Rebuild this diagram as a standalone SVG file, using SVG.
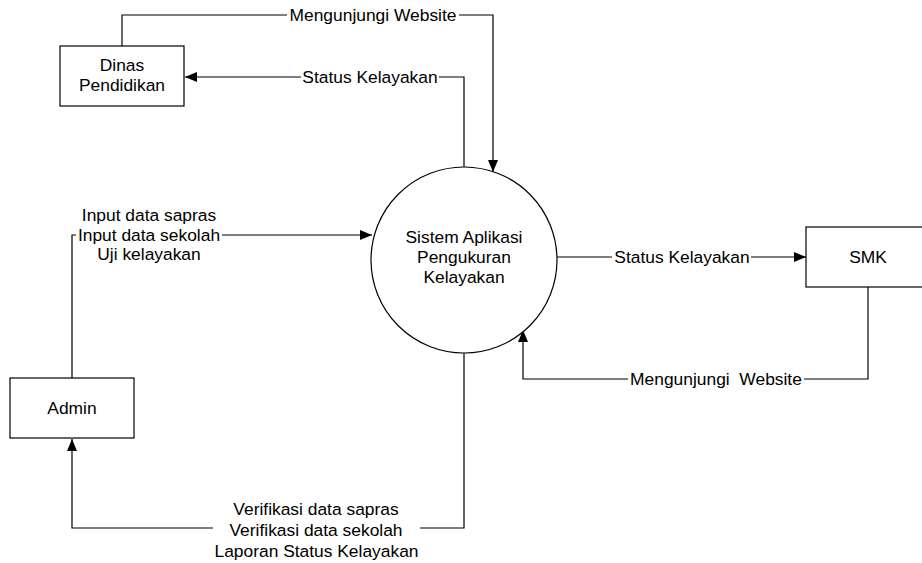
<svg xmlns="http://www.w3.org/2000/svg" width="922" height="563" viewBox="0 0 922 563">
<style>
.box{fill:#fff;stroke:#000;stroke-width:1.2}
.ln{fill:none;stroke:#000;stroke-width:1.2}
text{font-family:"Liberation Sans",Arial,sans-serif;font-size:17.4px;fill:#000;text-anchor:middle;white-space:pre}
</style>
<defs>
<marker id="ah" markerUnits="userSpaceOnUse" markerWidth="14" markerHeight="12" viewBox="0 0 14 12" refX="13" refY="6" orient="auto">
<path d="M1 1 L13 6 L1 11 Z" fill="#000"/>
</marker>
</defs>
<rect width="922" height="563" fill="#fff"/>
<g id="connectors">
<path class="ln" d="M122 46 V15 H287 M459 15 H493 V172" marker-end="url(#ah)"/>
<path class="ln" d="M464 167 V77 H439 M301 77 H185" marker-end="url(#ah)"/>
<path class="ln" d="M72 378 V235 H76 M222 235 H372" marker-end="url(#ah)"/>
<path class="ln" d="M557 257 H612 M751 257 H806" marker-end="url(#ah)"/>
<path class="ln" d="M868 287 V379 H804 M628 379 H523 V330" marker-end="url(#ah)"/>
<path class="ln" d="M464 353 V528 H420 M213 528 H72 V439" marker-end="url(#ah)"/>
<text x="373" y="21">Mengunjungi Website</text>
<text x="370" y="83">Status Kelayakan</text>
<text x="149" y="220.5">Input data sapras</text>
<text x="149" y="240.5">Input data sekolah</text>
<text x="149" y="260">Uji kelayakan</text>
<text x="682" y="263">Status Kelayakan</text>
<text x="716" y="385">Mengunjungi  Website</text>
<text x="316" y="515">Verifikasi data sapras</text>
<text x="316" y="536">Verifikasi data sekolah</text>
<text x="316.5" y="557">Laporan Status Kelayakan</text>
</g>
<g id="dinas">
<rect class="box" x="60" y="46" width="124" height="60"/>
<text x="122" y="71">Dinas</text>
<text x="122" y="91">Pendidikan</text>
</g>
<g id="sistem">
<circle class="box" cx="464" cy="260" r="93"/>
<text x="464" y="243">Sistem Aplikasi</text>
<text x="464" y="263">Pengukuran</text>
<text x="464" y="283">Kelayakan</text>
</g>
<g id="smk">
<rect class="box" x="806" y="227" width="125" height="60"/>
<text x="868" y="263">SMK</text>
</g>
<g id="admin">
<rect class="box" x="10" y="378" width="124" height="60"/>
<text x="72" y="414">Admin</text>
</g>
</svg>
